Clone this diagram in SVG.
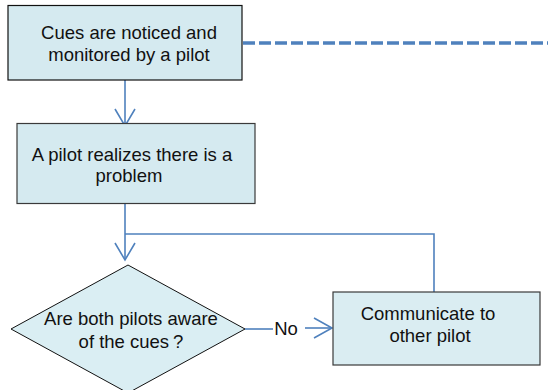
<svg xmlns="http://www.w3.org/2000/svg" width="548" height="390" viewBox="0 0 548 390">
<style>
.box{fill:#d5eaf0;stroke:#3a3a3a;stroke-width:1.2}
.t{font-family:"Liberation Sans",Arial,sans-serif;font-size:18.5px;fill:#111;text-anchor:middle}
.c{fill:none;stroke:#4f81bd;stroke-width:1.6}
.dash{fill:none;stroke:#4f81bd;stroke-width:3.5;stroke-dasharray:12 4}
</style>
<rect width="548" height="390" fill="#fff"/>
<g id="connectors">
<line class="dash" x1="243" y1="43" x2="548" y2="43"/>
<line class="c" x1="125" y1="80" x2="125" y2="126"/>
<polyline class="c" points="115,109 125,126 135,109"/>
<line class="c" x1="125" y1="204" x2="125" y2="260"/>
<polyline class="c" points="115,243 125,260 135,243"/>
<polyline class="c" points="125,234 434,234 434,292"/>
<line class="c" x1="245" y1="329" x2="273" y2="329"/>
<line class="c" x1="305" y1="328" x2="332" y2="328"/>
<polyline class="c" points="314,318 332,328 314,338"/>
<text class="t" x="286" y="335">No</text>
</g>
<g id="node1">
<rect class="box" x="8" y="5.5" width="234" height="74.5" style="stroke:#111"/>
<text class="t" x="129" y="39">Cues are noticed and</text>
<text class="t" x="129" y="61">monitored by a pilot</text>
</g>
<g id="node2">
<rect class="box" x="17" y="123.5" width="238" height="80"/>
<text class="t" x="132" y="161">A pilot realizes there is a</text>
<text class="t" x="129" y="182">problem</text>
</g>
<g id="node3">
<polygon class="box" points="128,265 245,329 128,393 11,329" style="fill:#daeef3;stroke:#111;stroke-width:1"/>
<text class="t" x="131" y="325">Are both pilots aware</text>
<text class="t" x="131" y="348">of the cues<tspan dx="4">?</tspan></text>
</g>
<g id="node4">
<rect class="box" x="333" y="292" width="207" height="73" style="fill:#daedf2"/>
<text class="t" x="428" y="320">Communicate to</text>
<text class="t" x="430" y="342">other pilot</text>
</g>
</svg>
